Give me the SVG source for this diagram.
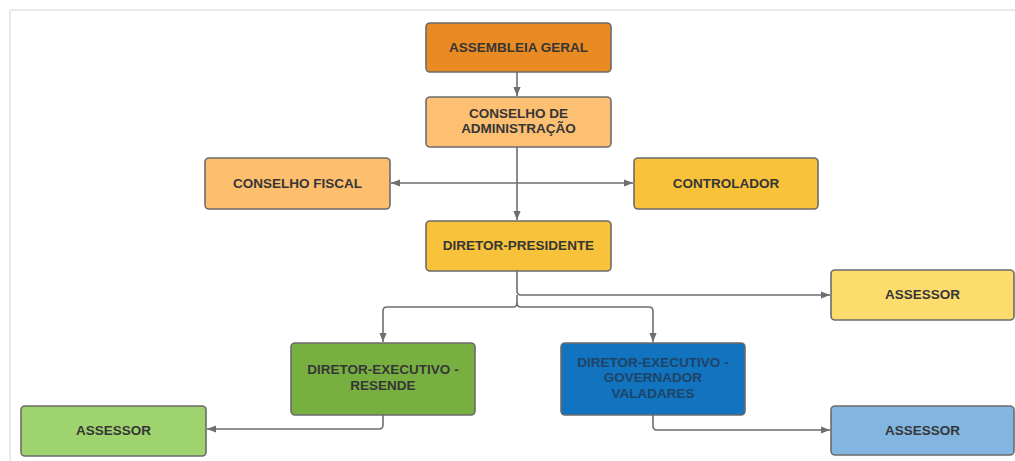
<svg xmlns="http://www.w3.org/2000/svg" width="1015" height="461" viewBox="0 0 1015 461">
<style>
.n{stroke:#6b6b6b;stroke-width:1.6}
.t{font-family:"Liberation Sans",Arial,sans-serif;font-weight:bold;font-size:13.5px;fill:#363636;text-anchor:middle}
.tb{fill:#1f4468}
.e{fill:none;stroke:#6e6e6e;stroke-width:1.6}
</style>
<defs>
<marker id="ah" viewBox="0 0 10 10" refX="10" refY="5" markerWidth="9" markerHeight="9" markerUnits="userSpaceOnUse" orient="auto">
<path d="M0,1 L10,5 L0,9 z" fill="#6e6e6e"/>
</marker>
</defs>
<rect width="1015" height="461" fill="#ffffff"/>
<path d="M10,461 V10 H1015" fill="none" stroke="#dfe5ec" stroke-width="1.5"/>
<g id="connectors">
<path class="e" d="M517,72 V96" marker-end="url(#ah)"/>
<path class="e" d="M517,147 V220" marker-end="url(#ah)"/>
<path class="e" d="M517,183 H391" marker-end="url(#ah)"/>
<path class="e" d="M517,183 H633" marker-end="url(#ah)"/>
<path class="e" d="M517,271 V291 Q517,295 521,295 H830" marker-end="url(#ah)"/>
<path class="e" d="M517,295 V303 Q517,307 513,307 H387 Q383,307 383,311 V342" marker-end="url(#ah)"/>
<path class="e" d="M517,303 Q517,307 521,307 H649 Q653,307 653,311 V342" marker-end="url(#ah)"/>
<path class="e" d="M383,415 V425 Q383,429 379,429 H207" marker-end="url(#ah)"/>
<path class="e" d="M653,415 V426 Q653,430 657,430 H830" marker-end="url(#ah)"/>
</g>
<g id="assembleia">
<rect class="n" x="426" y="23" width="185" height="49" rx="4" fill="#ea8a22"/>
<text class="t" x="518.5" y="52">ASSEMBLEIA GERAL</text>
</g>
<g id="conselho-admin">
<rect class="n" x="426" y="97" width="185" height="50" rx="4" fill="#fdbf72"/>
<text class="t" x="518.5" y="118">CONSELHO DE</text>
<text class="t" x="518.5" y="133">ADMINISTRAÇÃO</text>
</g>
<g id="conselho-fiscal">
<rect class="n" x="205" y="158" width="185" height="51" rx="4" fill="#fdbf6e"/>
<text class="t" x="297.5" y="188">CONSELHO FISCAL</text>
</g>
<g id="controlador">
<rect class="n" x="634" y="158" width="184" height="51" rx="4" fill="#f8c33a"/>
<text class="t" x="726" y="188">CONTROLADOR</text>
</g>
<g id="diretor-presidente">
<rect class="n" x="426" y="221" width="185" height="50" rx="4" fill="#f8c33a"/>
<text class="t" x="518.5" y="250">DIRETOR-PRESIDENTE</text>
</g>
<g id="assessor-presidente">
<rect class="n" x="831" y="270" width="183" height="50" rx="4" fill="#fddc6e"/>
<text class="t" x="922.5" y="299">ASSESSOR</text>
</g>
<g id="diretor-resende">
<rect class="n" x="291" y="343" width="184" height="72" rx="4" fill="#77b041"/>
<text class="t" x="383" y="374">DIRETOR-EXECUTIVO -</text>
<text class="t" x="383" y="390">RESENDE</text>
</g>
<g id="diretor-gv">
<rect class="n" x="561" y="343" width="184" height="72" rx="4" fill="#1273be"/>
<text class="t tb" x="653" y="367">DIRETOR-EXECUTIVO -</text>
<text class="t tb" x="653" y="382">GOVERNADOR</text>
<text class="t tb" x="653" y="398">VALADARES</text>
</g>
<g id="assessor-resende">
<rect class="n" x="21" y="406" width="185" height="50" rx="4" fill="#9fd36e"/>
<text class="t" x="113.5" y="435">ASSESSOR</text>
</g>
<g id="assessor-gv">
<rect class="n" x="831" y="406" width="183" height="49" rx="4" fill="#82b6e0"/>
<text class="t" x="922.5" y="435">ASSESSOR</text>
</g>
</svg>
